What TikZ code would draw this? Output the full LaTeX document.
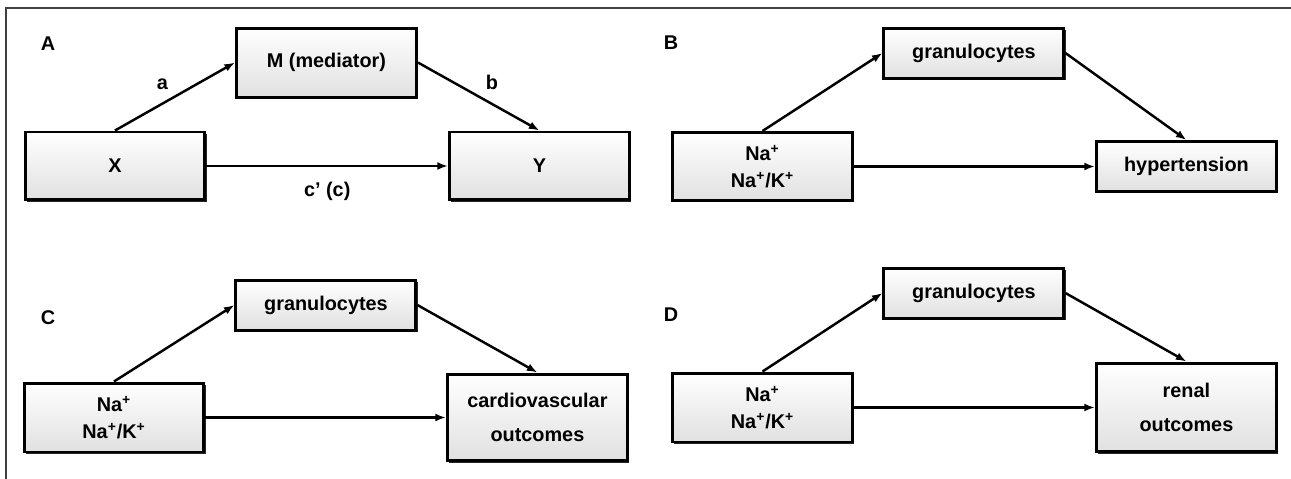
\documentclass[tikz,border=0pt]{standalone}
\usepackage{fontspec}
\setmainfont{Liberation Sans}
\usetikzlibrary{arrows.meta,positioning,shadows}
\tikzset{%
	block/.style  = {draw, rectangle, line width=1.7pt, minimum width=3.6cm, minimum height=1.36cm, top color=white, middle color=white, bottom color=black!12, drop shadow={shadow xshift=0.9pt, shadow yshift=-0.9pt, fill=black, opacity=0.85}, align=center}, % box
	flat/.style   = {block, minimum height=1cm}, % low box
	link/.style   = {line width=1.4pt, -{Latex[length=6pt,width=4.5pt]}}, % arrow
	frame/.style  = {line width=1.1pt, black!75}, % border
}
\newcommand{\naplus}{Na\textsuperscript{+}}

\begin{document}
\begin{tikzpicture}[x=0.02cm,y=-0.02cm,auto,font=\fontsize{11.3}{15.3}\selectfont\bfseries]
	\useasboundingbox (0,0) rectangle (1291,479);
	\draw[frame] (1291,8) -| (6,479);

	% A
	\node (tagA) at (48,44) {A};
	\node [block] (x) at (115,166) {X};
	\node [block] (y) [right of=x, node distance=8.49cm] {Y};
	\node [block, minimum height=1.38cm] (m) [above of=x, node distance=2.07cm, xshift=4.23cm] {M (mediator)};

	\draw[link] (x.north) -- node {a} (m.west);
	\draw[link] (m.east) -- node {b} (y.north);
	\draw[link] (x) -- node[below=5pt] {c’ (c)} (y);

	% B
	\node (tagB) at (671,43) {B};
	\node [block] (nab) at (762.5,166.5) {\naplus\\\naplus/K\textsuperscript{+}};
	\node [flat] (hyp) [right of=nab, node distance=8.48cm] {hypertension};
	\node [flat] (granb) [above of=nab, node distance=2.27cm, xshift=4.23cm] {granulocytes};

	\draw[link] (nab.north) -- (granb.west);
	\draw[link] (granb.east) -- (hyp.north);
	\draw[link] (nab) -- (hyp);

	% C
	\node (tagC) at (48,318) {C};
	\node [block, minimum height=1.38cm] (nac) at (114,417.5) {\naplus\\\naplus/K\textsuperscript{+}};
	\node [block, minimum height=1.74cm] (cv) [right of=nac, node distance=8.47cm] {cardiovascular\\[4.5pt]outcomes};
	\node [flat] (granc) [above of=nac, node distance=2.25cm, xshift=4.24cm] {granulocytes};

	\draw[link] (nac.north) -- (granc.west);
	\draw[link] (granc.east) -- (cv.north);
	\draw[link] (nac) -- (cv);

	% D
	\node (tagD) at (671,315) {D};
	\node [block, minimum height=1.38cm] (nad) at (762.5,407.5) {\naplus\\\naplus/K\textsuperscript{+}};
	\node [block, minimum height=1.78cm] (renal) [right of=nad, node distance=8.48cm] {renal\\[4.5pt]outcomes};
	\node [flat] (grand) [above of=nad, node distance=2.29cm, xshift=4.23cm] {granulocytes};

	\draw[link] (nad.north) -- (grand.west);
	\draw[link] (grand.east) -- (renal.north);
	\draw[link] (nad) -- (renal);
\end{tikzpicture}
\end{document}
